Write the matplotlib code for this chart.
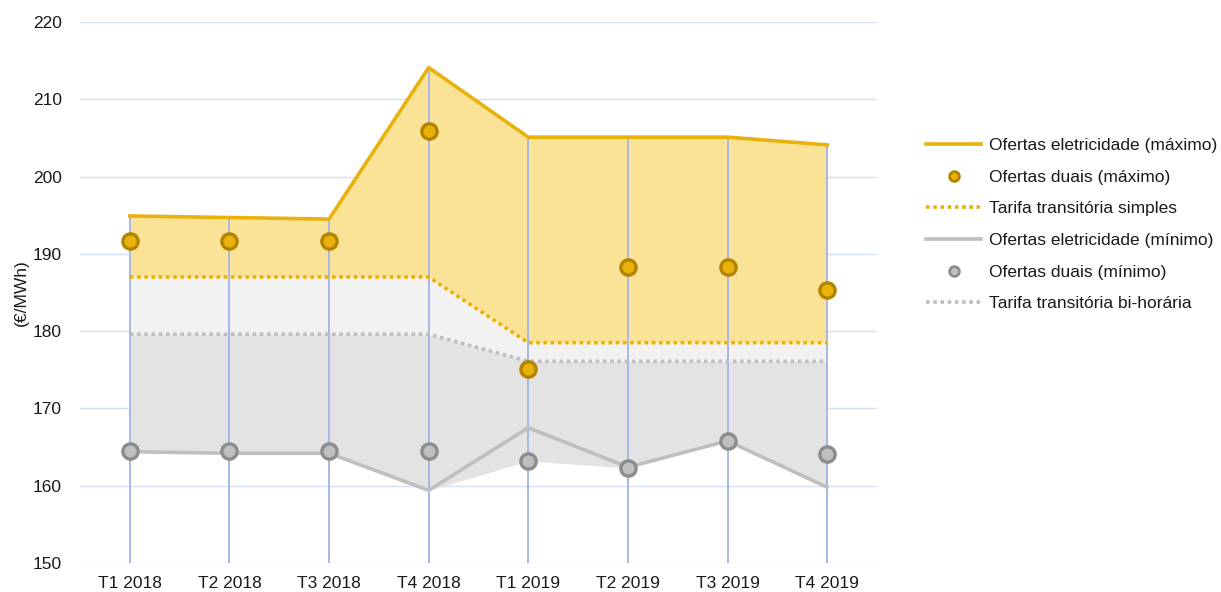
import matplotlib
matplotlib.use("Agg")
import matplotlib.pyplot as plt
import numpy as np
from matplotlib.lines import Line2D

plt.rcParams['font.family'] = ['Liberation Sans', 'DejaVu Sans']

categories = ["T1 2018", "T2 2018", "T3 2018", "T4 2018", "T1 2019", "T2 2019", "T3 2019", "T4 2019"]
elec_max = [194.9, 194.7, 194.5, 214.1, 205.1, 205.1, 205.1, 204.1]
dual_max = [191.7, 191.7, 191.7, 205.9, 175.1, 188.3, 188.3, 185.3]
tarifa_simples = [187.0, 187.0, 187.0, 187.0, 178.5, 178.5, 178.5, 178.5]
elec_min = [164.4, 164.2, 164.2, 159.4, 167.5, 162.4, 165.8, 159.8]
dual_min = [164.5, 164.5, 164.5, 164.5, 163.2, 162.3, 165.8, 164.1]
tarifa_bihoraria = [179.6, 179.6, 179.6, 179.6, 176.1, 176.1, 176.1, 176.1]

yticks = [150, 160, 170, 180, 190, 200, 210, 220]

fig = plt.figure(figsize=(12.21, 5.92), dpi=100)
ax = fig.add_axes([80/1221, 1-563/592, (877-80)/1221, (563-22)/592])

x = np.arange(len(categories))
emax = np.array(elec_max)
emin = np.array(elec_min)
dmin = np.array(dual_min)
ts = np.array(tarifa_simples)
tb = np.array(tarifa_bihoraria)
bottom = np.minimum(emin, dmin)

GOLD = "#e9b10b"
GOLD_DARK = "#b38300"
GRAY = "#bfbfbf"
GRAY_DARK = "#8c8c8c"
FS = 12.5

# horizontal grid
for t in yticks:
    ax.axhline(t, color="#d6def3", lw=1.0, zorder=0)

# fills
ax.fill_between(x, ts, emax, color="#fae396", lw=0, zorder=1)
ax.fill_between(x, tb, ts, color="#f2f2f2", lw=0, zorder=1)
ax.fill_between(x, bottom, tb, color="#e3e3e3", lw=0, zorder=1)

# drop lines
ax.vlines(x, 150, emax, color="#a7b8e6", lw=1.4, zorder=2)

# lines
ax.plot(x, emax, color=GOLD, lw=2.6, zorder=3)
ax.plot(x, emin, color=GRAY, lw=2.6, zorder=3)
ax.plot(x, ts, color=GOLD, lw=2.6, ls=(0, (1, 1)), zorder=3)
ax.plot(x, tb, color=GRAY, lw=2.6, ls=(0, (1, 1)), zorder=3)

# markers
ax.plot(x, dual_max, ls='none', marker='o', ms=11, mfc=GOLD, mec=GOLD_DARK, mew=2.4, zorder=4)
ax.plot(x, dual_min, ls='none', marker='o', ms=11, mfc=GRAY, mec=GRAY_DARK, mew=2.4, zorder=4)

ax.set_xlim(-0.5, 7.5)
ax.set_ylim(150, 220)
ax.set_yticks(yticks)
ax.set_xticks(x)
ax.set_xticklabels(categories)
ax.tick_params(axis='both', length=0, labelsize=FS, colors="#1a1a1a")
ax.tick_params(axis='y', pad=13)
ax.tick_params(axis='x', pad=9)
for s in ax.spines.values():
    s.set_visible(False)
ax.set_ylabel("(€/MWh)", fontsize=FS, color="#1a1a1a", labelpad=3)

handles = [
    Line2D([], [], color=GOLD, lw=2.6),
    Line2D([], [], ls='none', marker='o', ms=7, mfc=GOLD, mec=GOLD_DARK, mew=2),
    Line2D([], [], color=GOLD, lw=2.6, ls=(0, (1, 1))),
    Line2D([], [], color=GRAY, lw=2.6),
    Line2D([], [], ls='none', marker='o', ms=7, mfc=GRAY, mec=GRAY_DARK, mew=2),
    Line2D([], [], color=GRAY, lw=2.6, ls=(0, (1, 1))),
]
labels = ["Ofertas eletricidade (máximo)", "Ofertas duais (máximo)", "Tarifa transitória simples",
          "Ofertas eletricidade (mínimo)", "Ofertas duais (mínimo)", "Tarifa transitória bi-horária"]
fig.legend(handles, labels, loc='upper left', bbox_to_anchor=(919/1221, 1-131/592),
           frameon=False, fontsize=FS, handlelength=3.2, handletextpad=0.45,
           labelspacing=0.95, labelcolor="#1a1a1a", borderaxespad=0)

fig.savefig("out.png", dpi=100)
